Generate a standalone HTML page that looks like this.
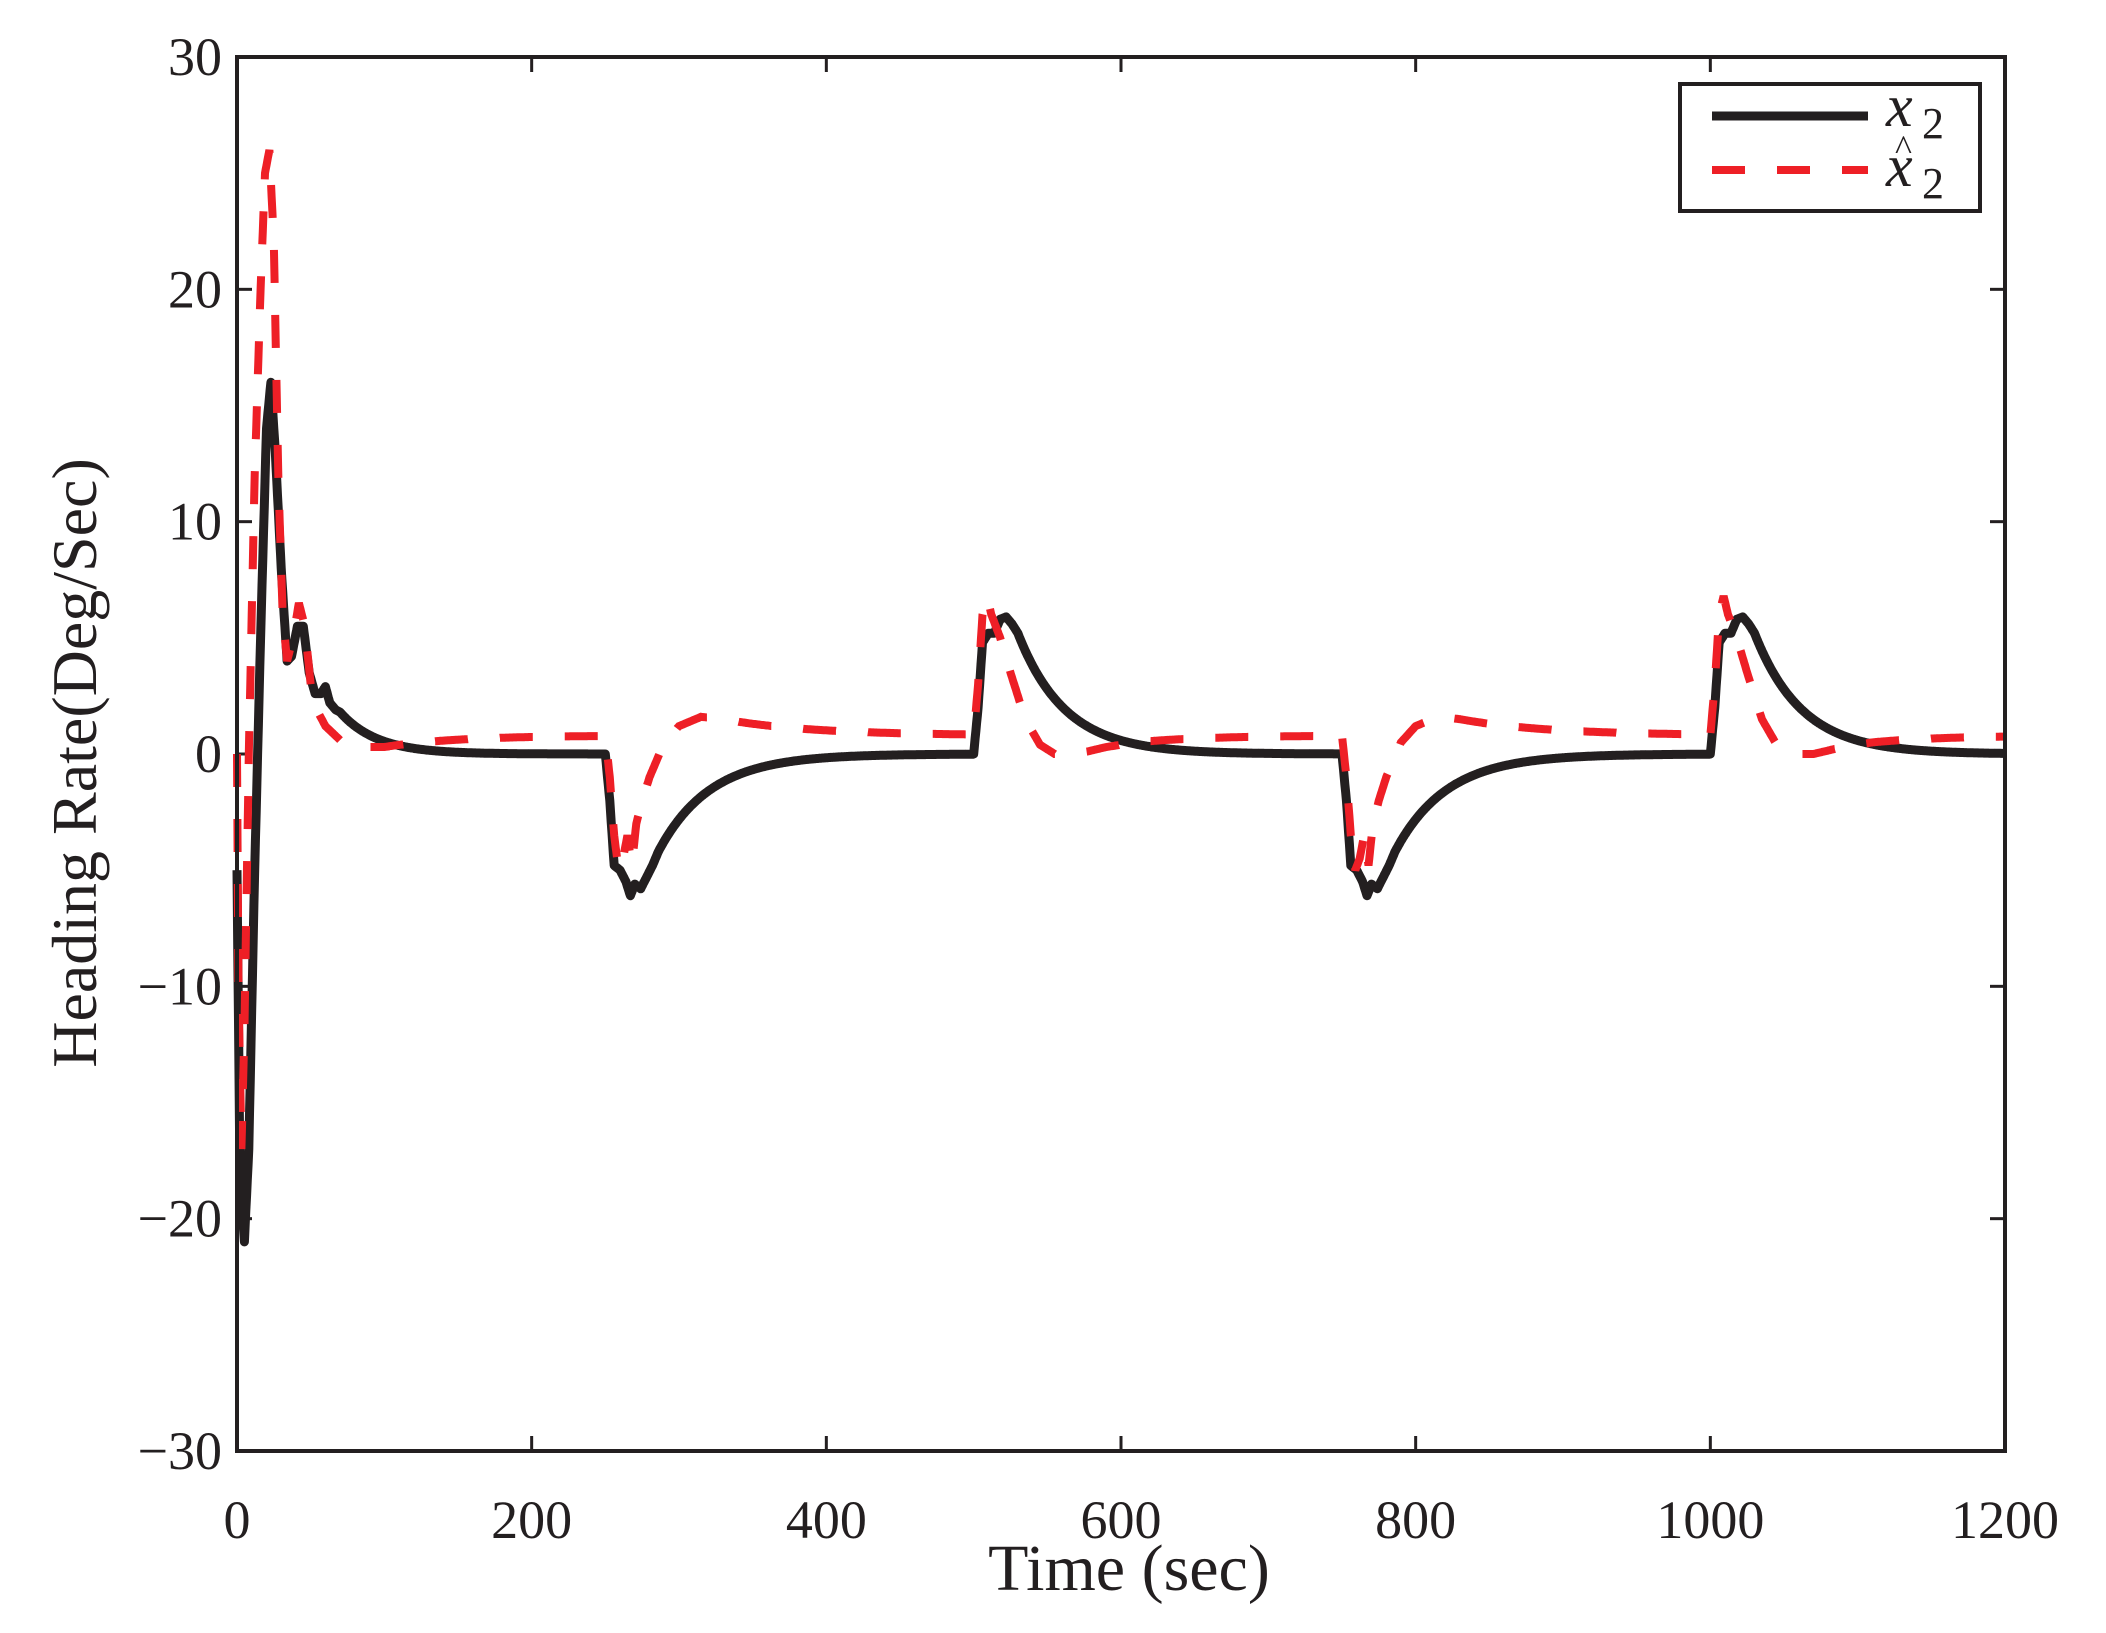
<!DOCTYPE html>
<html><head><meta charset="utf-8"><style>
html,body{margin:0;padding:0;background:#fff;}
svg{display:block;}
text{font-family:"Liberation Serif",serif;fill:#231f20;}
</style></head><body>
<svg id="s" width="2106" height="1633" viewBox="0 0 2106 1633" xmlns="http://www.w3.org/2000/svg">
<rect width="2106" height="1633" fill="#fff"/>
<g id="ticks" stroke="#231f20" stroke-width="3"></g>
<g id="labels" font-size="54"></g>
<path id="blk" fill="none" stroke="#231f20" stroke-width="9" stroke-linejoin="round"/>
<path id="red" fill="none" stroke="#ee1f26" stroke-width="8" stroke-dasharray="33 32"/>
<rect x="237" y="57" width="1768" height="1394" fill="none" stroke="#231f20" stroke-width="4"/>
<rect x="1680" y="84" width="300" height="127" fill="#fff" stroke="#231f20" stroke-width="4"/>
<line x1="1712" y1="116" x2="1868" y2="116" stroke="#231f20" stroke-width="9"/>
<line x1="1712" y1="170" x2="1868" y2="170" stroke="#ee1f26" stroke-width="8" stroke-dasharray="33 32"/>
<text x="1886" y="126" font-size="60" font-style="italic">x</text><text x="1922" y="138" font-size="44">2</text>
<text x="1886" y="186" font-size="60" font-style="italic">x</text><text x="1895" y="160" font-size="36">^</text><text x="1922" y="198" font-size="44">2</text>
<text x="1129" y="1590" font-size="66" text-anchor="middle">Time (sec)</text>
<text transform="translate(96,763) rotate(-90)" font-size="64" text-anchor="middle">Heading Rate(Deg/Sec)</text>
</svg>
<script>
var X0=237,X1=2005,Y0=754,SY=1394/60,SX=1768/1200;
function px(t){return X0+t*SX;} function py(v){return Y0-v*SY;}
var tk=document.getElementById('ticks'),lb=document.getElementById('labels'),NS='http://www.w3.org/2000/svg';
function el(p,n,a,txt){var e=document.createElementNS(NS,n);for(var k in a)e.setAttribute(k,a[k]);if(txt!=null)e.textContent=txt;p.appendChild(e);}
for(var t=0;t<=1200;t+=200){var x=px(t);
 el(tk,'line',{x1:x,y1:1451,x2:x,y2:1436});el(tk,'line',{x1:x,y1:57,x2:x,y2:72});
 el(lb,'text',{x:x,y:1538,'text-anchor':'middle'},String(t));}
for(var v=-30;v<=30;v+=10){var y=py(v);
 el(tk,'line',{x1:237,y1:y,x2:252,y2:y});el(tk,'line',{x1:2005,y1:y,x2:1990,y2:y});
 el(lb,'text',{x:222,y:y+18,'text-anchor':'end'},(v<0?'\u2212':'')+Math.abs(v));}
function interp(P,t){for(var i=1;i<P.length;i++){if(t<=P[i][0]){var a=P[i-1],b=P[i];return a[1]+(b[1]-a[1])*(t-a[0])/(b[0]-a[0]);}}return P[P.length-1][1];}
var BI=[[0,-5],[2,-18],[5,-21],[8,-17],[12,-5],[16,5],[20,14],[23,16],[26,13],[30,8],[34,4],[37,4.2],[41,5.5],[45,5.5],[49,3.5],[53,2.6],[57,2.6],[60,2.9],[63,2.2],[67,1.9],[70,1.8]];
var BD=[[0,0],[3,-2],[6,-4.8],[10,-5],[14,-5.5],[17,-6.1],[20,-5.6],[24,-5.8],[28,-5.3],[32,-4.8],[36,-4.2]];
var BU=[[0,0],[3,2],[6,4.8],[10,5.2],[14,5.2],[18,5.8],[22,5.9],[26,5.6],[30,5.2]];
function blk(t){
 if(t<70)return interp(BI,t);
 if(t<250)return 1.8*Math.exp(-(t-70)/25);
 if(t>=1000)return bu(t-1000);
 if(t>=750)return bd(t-750);
 if(t>=500)return bu(t-500);
 return bd(t-250);}
function bd(u){return u<36?interp(BD,u):-4.2*Math.exp(-(u-36)/35);}
function bu(u){return u<30?interp(BU,u):5.2*Math.exp(-(u-30)/32);}
var RI=[[0,0],[1,-10],[3,-17],[5,-12],[8,0],[12,12],[16,20],[19,25],[22,26],[25,22],[28,12],[31,6],[34,4],[38,5],[42,6.5],[46,5.5],[50,3],[55,1.8],[60,1.2],[70,0.6],[80,0.3],[100,0.3]];
var RD=[[0,0.8],[3,-1],[6,-3.5],[9,-5],[12,-4.5],[15,-3.5],[18,-4.8],[21,-3],[25,-2],[30,-1],[40,0.5],[50,1.2],[65,1.6],[80,1.5]];
var RU=[[0,0.8],[3,3],[6,6],[9,6.8],[12,6],[18,5],[25,3.5],[35,1.5],[45,0.4],[55,0],[70,0],[90,0.3],[110,0.5]];
function rd(u){return u<80?interp(RD,u):0.8+0.7*Math.exp(-(u-80)/60);}
function ru(u){return u<110?interp(RU,u):0.8-0.3*Math.exp(-(u-110)/50);}
function red(t){
 if(t<100)return interp(RI,t);
 if(t<250)return 0.3+0.5*(1-Math.exp(-(t-100)/50));
 if(t>=1000)return ru(t-1000);
 if(t>=750)return rd(t-750);
 if(t>=500)return ru(t-500);
 return rd(t-250);}
function path(f){var d='';for(var t=0;t<=1200;t+=0.5){d+=(t?'L':'M')+px(t).toFixed(1)+' '+py(f(t)).toFixed(1);}return d;}
document.getElementById('blk').setAttribute('d',path(blk));
document.getElementById('red').setAttribute('d',path(red));
</script>
</body></html>
